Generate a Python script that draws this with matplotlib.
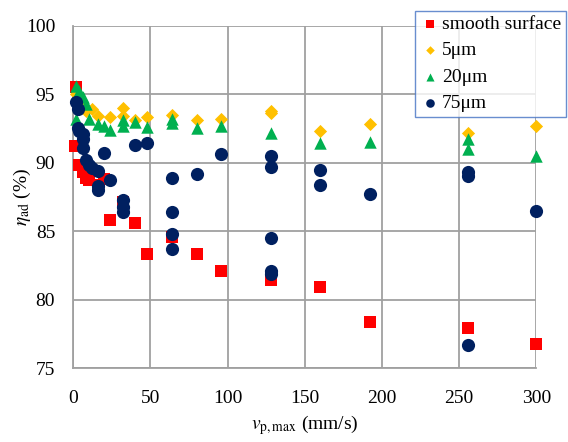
import matplotlib.pyplot as plt

# velocidad pico (mm/s) y rendimiento adiabatico (%) por rugosidad
x_liso = [2, 1, 4, 6, 8, 10, 16, 20, 24, 32, 40, 48, 64, 80, 96, 128, 160, 192, 256, 300]
y_liso = [95.5, 91.2, 89.8, 89.3, 88.9, 88.7, 88.4, 88.8, 85.8, 87.1, 85.6, 83.3, 84.6, 83.3, 82.1,
          81.4, 80.9, 78.4, 77.9, 76.8]

x_5 = [2, 4, 6, 8, 12, 16, 24, 32, 32, 40, 48, 64, 80, 96, 128, 128, 160, 192, 256, 300]
y_5 = [95.0, 94.5, 94.1, 93.8, 93.9, 93.4, 93.3, 94.0, 93.4, 93.1, 93.3, 93.5, 93.1, 93.2, 93.8,
       93.6, 92.3, 92.8, 92.2, 92.7]

x_20 = [2, 2, 4, 6, 8, 10, 16, 20, 24, 32, 32, 40, 48, 64, 64, 80, 96, 128, 160, 192, 256, 256, 300]
y_20 = [95.6, 93.2, 95.2, 94.8, 94.3, 93.2, 92.8, 92.7, 92.4, 93.1, 92.7, 93.0, 92.6, 93.2, 92.9,
        92.5, 92.7, 92.2, 91.4, 91.5, 91.7, 91.0, 90.5]

x_75 = [2, 3, 3, 4, 6, 6, 6, 8, 10, 12, 16, 16, 16, 20, 24, 32, 32, 32, 40, 48, 64, 64, 64, 64,
        80, 96, 128, 128, 128, 128, 128, 160, 160, 192, 256, 256, 256, 300]
y_75 = [94.4, 93.9, 92.5, 92.3, 92.1, 91.7, 91.1, 90.2, 89.8, 89.6, 89.4, 88.3, 88.0, 90.7, 88.7,
        87.3, 86.8, 86.4, 91.3, 91.4, 88.9, 86.4, 84.8, 83.7, 89.2, 90.6, 90.5, 89.7, 84.5, 82.1,
        81.9, 89.5, 88.4, 87.7, 89.3, 89.0, 76.7, 86.5]

plt.rcParams['font.family'] = 'serif'
plt.rcParams['font.serif'] = ['Liberation Serif', 'DejaVu Serif']
plt.rcParams['mathtext.fontset'] = 'stix'

fig = plt.figure(figsize=(5.68, 4.42), dpi=100)
ax = fig.add_axes([0.129, 0.167, 0.815, 0.775])

ax.scatter(x_liso, y_liso, marker='s', s=85, color='#FF0000', linewidths=0, label='smooth surface',
           zorder=3, clip_on=False)
ax.scatter(x_5, y_5, marker='D', s=45, color='#FFC000', linewidths=0, label='5μm', zorder=4, clip_on=False)
ax.scatter(x_20, y_20, marker='^', s=80, color='#00B050', linewidths=0, label='20μm', zorder=5, clip_on=False)
ax.scatter(x_75, y_75, marker='o', s=90, color='#002060', linewidths=0, label='75μm', zorder=6, clip_on=False)

ax.set_xlim(0, 300)
ax.set_ylim(75, 100)
ax.set_xticks(range(0, 301, 50))
ax.set_yticks(range(75, 101, 5))
ax.grid(True, color='#A0A0A0', linewidth=1.3)
ax.set_axisbelow(True)
for lado in ['top', 'right']:
    ax.spines[lado].set_visible(False)
for lado in ['left', 'bottom']:
    ax.spines[lado].set_color('#A0A0A0')
    ax.spines[lado].set_linewidth(1.3)
ax.tick_params(axis='y', length=0, labelsize=14, pad=13)
ax.tick_params(axis='x', length=0, labelsize=14, pad=16)

ax.set_xlabel(r'$v_{\rm p,max}$ (mm/s)', fontsize=14, labelpad=4)
ax.set_ylabel(r'$\eta_{\rm ad}$ (%)', fontsize=14)
ax.yaxis.set_label_coords(-0.088, 0.5)

leg = fig.legend(loc='upper right', bbox_to_anchor=(0.996, 0.976), fontsize=14, frameon=True,
                 fancybox=False, markerscale=0.65, handletextpad=0.1, borderpad=0.25,
                 labelspacing=0.45, handlelength=1.0, borderaxespad=0)
leg.get_frame().set_edgecolor('#4472C4')
leg.get_frame().set_linewidth(1.0)

fig.savefig('out.png', dpi=100)
